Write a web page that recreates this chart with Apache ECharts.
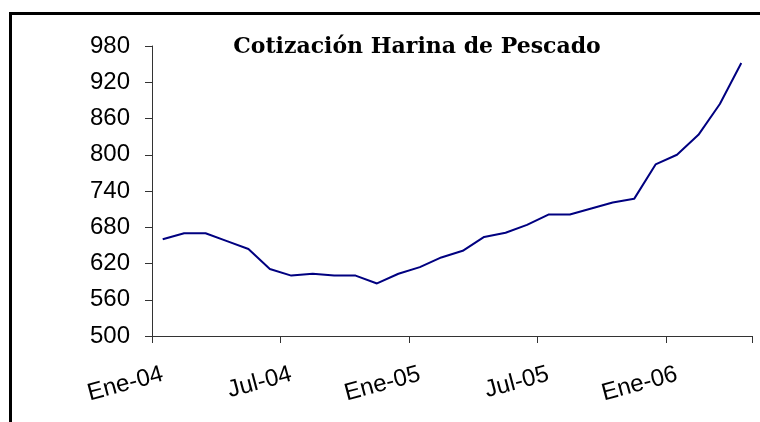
<!DOCTYPE html>
<html>
<head>
<meta charset="utf-8">
<script src="https://cdn.jsdelivr.net/npm/echarts@6/dist/echarts.min.js"></script>
<style>
  html, body { margin: 0; padding: 0; background: #fff; }
  #chart { width: 760px; height: 422px; }
</style>
</head>
<body>
<div id="chart"></div>
<script>
// meses Ene-04 .. Abr-06
const meses = [
  'Ene-04', 'Feb-04', 'Mar-04', 'Abr-04', 'May-04', 'Jun-04',
  'Jul-04', 'Ago-04', 'Sep-04', 'Oct-04', 'Nov-04', 'Dic-04',
  'Ene-05', 'Feb-05', 'Mar-05', 'Abr-05', 'May-05', 'Jun-05',
  'Jul-05', 'Ago-05', 'Sep-05', 'Oct-05', 'Nov-05', 'Dic-05',
  'Ene-06', 'Feb-06', 'Mar-06', 'Abr-06'
];
const cotizacion = [
  660, 670, 670, 657, 644, 611,
  600, 603, 600, 600, 587, 603,
  614, 630, 641, 664, 671, 684,
  701, 701, 711, 721, 727, 784,
  800, 833, 884, 952
];
const yTicks = [500, 560, 620, 680, 740, 800, 860, 920, 980];

const chart = echarts.init(document.getElementById('chart'));

chart.setOption({
  animation: false,
  backgroundColor: '#fff',
  title: {
    text: 'Cotización Harina de Pescado',
    left: 412,
    textAlign: 'center',
    top: 31,
    textStyle: {
      fontFamily: 'DejaVu Serif',
      fontWeight: 'bold',
      fontSize: 22,
      color: '#000'
    }
  },
  graphic: [
    {
      type: 'rect',
      shape: { x: 10.5, y: 13.5, width: 900, height: 600 },
      style: { fill: null, stroke: '#000', lineWidth: 3 },
      silent: true
    }
  ],
  grid: { left: 152, right: 8, top: 46, bottom: 86 },
  xAxis: {
    type: 'category',
    data: meses,
    boundaryGap: true,
    axisLine: { lineStyle: { color: '#333', width: 1 } },
    axisTick: { show: true, interval: 5, length: 7, lineStyle: { color: '#333' } },
    axisLabel: {
      interval: 5,
      rotate: 15,
      margin: 38,
      fontFamily: 'Liberation Sans',
      fontSize: 24,
      color: '#000'
    },
    splitLine: { show: false }
  },
  yAxis: {
    type: 'value',
    min: yTicks[0],
    max: yTicks[yTicks.length - 1],
    interval: 60,
    axisLine: { show: true, lineStyle: { color: '#333', width: 1 } },
    axisTick: { show: true, length: 7, lineStyle: { color: '#333' } },
    axisLabel: {
      margin: 22,
      fontFamily: 'Liberation Sans',
      fontSize: 24,
      color: '#000'
    },
    splitLine: { show: false }
  },
  series: [
    {
      type: 'line',
      data: cotizacion,
      symbol: 'none',
      lineStyle: { color: '#000080', width: 2 }
    }
  ]
});
</script>
</body>
</html>
